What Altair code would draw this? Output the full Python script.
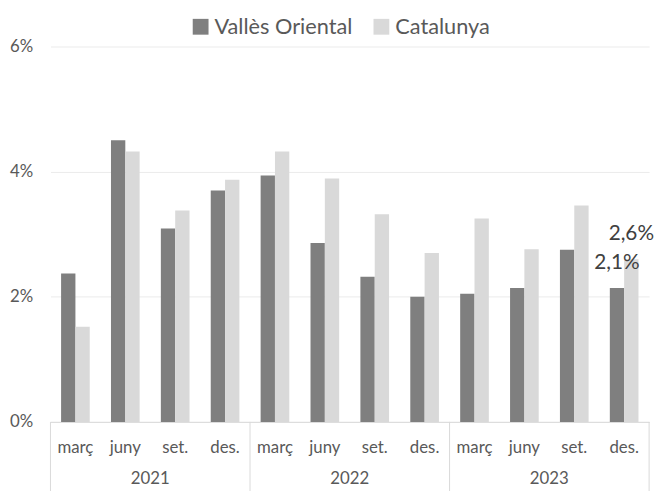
import altair as alt
import pandas as pd

years = ["2021", "2022", "2023"]
quarters = ["març", "juny", "set.", "des."]
series = ["Vallès Oriental", "Catalunya"]
valles = [2.37, 4.50, 3.09, 3.70, 3.94, 2.86, 2.32, 2.00, 2.05, 2.14, 2.75, 2.14]
catalunya = [1.52, 4.32, 3.38, 3.87, 4.32, 3.89, 3.32, 2.70, 3.25, 2.76, 3.46, 2.60]
colors = ["#7f7f7f", "#d9d9d9"]
y_ticks = [0, 2, 4, 6]

keys = [f"{y}|{q}" for y in years for q in quarters]

rows = []
for i, k in enumerate(keys):
    rows.append({"key": k, "serie": series[0], "value": valles[i], "last": i == len(keys) - 1})
    rows.append({"key": k, "serie": series[1], "value": catalunya[i], "last": i == len(keys) - 1})
df = pd.DataFrame(rows)

year_df = pd.DataFrame({"year": years, "start": [f"{y}|{quarters[0]}" for y in years],
                        "mid": [f"{y}|{quarters[2]}" for y in years]})
end_df = pd.DataFrame({"end": [keys[-1]]})

W, H = 606, 380
FONT = "Lato"
TXT = "#595959"

xscale = alt.Scale(domain=keys, paddingInner=0, paddingOuter=0)
xoff_scale = alt.Scale(domain=series, paddingInner=0, paddingOuter=0.741)

base = alt.Chart(df)

bars = base.mark_bar().encode(
    x=alt.X("key:N", sort=keys, scale=xscale,
            axis=alt.Axis(title=None, ticks=False, domainColor="#d9d9d9", domainWidth=1,
                          labelExpr="split(datum.value, '|')[1]", labelAngle=0,
                          labelFont=FONT, labelFontSize=17, labelColor=TXT,
                          labelBaseline="middle", labelPadding=26)),
    xOffset=alt.XOffset("serie:N", scale=xoff_scale, sort=series),
    y=alt.Y("value:Q", scale=alt.Scale(domain=[0, 6], nice=False),
            axis=alt.Axis(title=None, values=y_ticks, labelExpr="datum.value + '%'",
                          domain=False, ticks=False, gridColor="#ebebeb", gridWidth=1,
                          labelFont=FONT, labelFontSize=17, labelColor=TXT, labelPadding=18)),
    color=alt.Color("serie:N", sort=series,
                    scale=alt.Scale(domain=series, range=colors),
                    legend=alt.Legend(title=None, orient="none", direction="horizontal",
                                      legendX=141, legendY=-31, symbolType="square",
                                      symbolSize=256, symbolStrokeWidth=0,
                                      labelFont=FONT, labelFontSize=22, labelColor=TXT,
                                      columnPadding=18, labelOffset=3)),
)

labels = base.transform_filter("datum.last").transform_calculate(
    lbl="replace(format(datum.value, '.1f'), '.', ',') + '%'"
).mark_text(baseline="bottom", dy=-15, font=FONT, fontSize=21, color="#404040").encode(
    x=alt.X("key:N", sort=keys, scale=xscale),
    xOffset=alt.XOffset("serie:N", scale=xoff_scale, sort=series),
    y="value:Q",
    text="lbl:N",
)

sep_start = alt.Chart(year_df).mark_rule(color="#d9d9d9", strokeWidth=1).encode(
    x=alt.X("start:N", sort=keys, scale=xscale, bandPosition=0),
    y=alt.value(H), y2=alt.value(H + 75),
)
sep_end = alt.Chart(end_df).mark_rule(color="#d9d9d9", strokeWidth=1).encode(
    x=alt.X("end:N", sort=keys, scale=xscale, bandPosition=1),
    y=alt.value(H), y2=alt.value(H + 75),
)
year_text = alt.Chart(year_df).mark_text(font=FONT, fontSize=17, color=TXT, baseline="middle").encode(
    x=alt.X("mid:N", sort=keys, scale=xscale, bandPosition=0),
    y=alt.value(H + 58),
    text="year:N",
)

chart = alt.layer(bars, labels, sep_start, sep_end, year_text).properties(
    width=W, height=H,
    autosize=alt.AutoSizeParams(type="none"),
    padding={"left": 43, "top": 36, "right": 8, "bottom": 70},
).configure(background="white", view=alt.ViewConfig(stroke=None))

chart.save("out.html", embed_options={"renderer": "svg", "actions": False})
